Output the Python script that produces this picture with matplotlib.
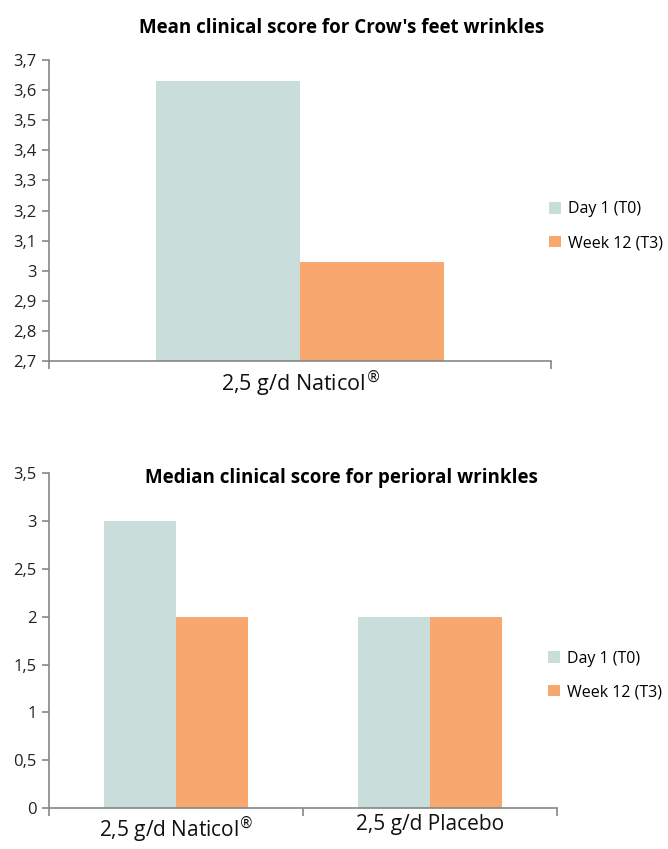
import matplotlib
matplotlib.use("Agg")
import matplotlib.pyplot as plt
from matplotlib.ticker import FuncFormatter
import numpy as np

plt.rcParams['font.family'] = ['Open Sans', 'DejaVu Sans']

# data
series = ["Day 1 (T0)", "Week 12 (T3)"]
colors = ["#C9DEDB", "#F8A86F"]

top_groups = ["2,5 g/d Naticol$^{\\circledR}$"]
top_day1 = [3.63]
top_week12 = [3.03]

bot_groups = ["2,5 g/d Naticol$^{\\circledR}$", "2,5 g/d Placebo"]
bot_day1 = [3.0, 2.0]
bot_week12 = [2.0, 2.0]

axis_col = "#868686"
comma = FuncFormatter(lambda v, p: f"{round(v, 2):g}".replace(".", ","))

fig = plt.figure(figsize=(6.68, 8.49), dpi=100)


def style(ax, n, xpad, xsize):
    for s in ["top", "right"]:
        ax.spines[s].set_visible(False)
    for s in ["left", "bottom"]:
        ax.spines[s].set_color(axis_col)
        ax.spines[s].set_linewidth(1.2)
    ax.yaxis.set_major_formatter(comma)
    ax.tick_params(axis="y", colors=axis_col, labelcolor="#222222", labelsize=12,
                   length=5, width=1.2, pad=4)
    ax.set_xlim(-0.5, n - 0.5)
    # category boundary ticks
    ax.set_xticks(np.arange(n + 1) - 0.5, minor=True)
    ax.tick_params(axis="x", which="minor", colors=axis_col, length=6, width=1.2)
    ax.tick_params(axis="x", which="major", length=0, labelsize=xsize, pad=xpad,
                   labelcolor="#111111")


def add_legend(ax, yanchor, xanchor):
    ax.legend(loc="upper left", bbox_to_anchor=(xanchor, yanchor), frameon=False,
              fontsize=11.5, handlelength=0.75, handleheight=0.75, handletextpad=0.45,
              labelspacing=1.1, borderaxespad=0, borderpad=0)


w = 0.287

# top chart
ax1 = fig.add_axes([0.0734, 0.5748, 0.7516, 0.3545])
x1 = np.arange(len(top_groups))
ax1.bar(x1 - w / 2, top_day1, w, color=colors[0], label=series[0])
ax1.bar(x1 + w / 2, top_week12, w, color=colors[1], label=series[1])
ax1.set_ylim(2.7, 3.7)
ax1.set_yticks([round(v, 1) for v in np.arange(2.7, 3.71, 0.1)])
ax1.set_xticks(x1)
ax1.set_xticklabels(top_groups)
style(ax1, len(top_groups), 5, 15.5)
add_legend(ax1, 0.53, 0.995)
fig.text(0.511, 0.967, "Mean clinical score for Crow's feet wrinkles", ha="center",
         va="center", fontsize=13.5, fontweight="bold")

# bottom chart
ax2 = fig.add_axes([0.0734, 0.048, 0.7604, 0.395])
x2 = np.arange(len(bot_groups))
w2 = 0.285
ax2.bar(x2 - w2 / 2, bot_day1, w2, color=colors[0], label=series[0])
ax2.bar(x2 + w2 / 2, bot_week12, w2, color=colors[1], label=series[1])
ax2.set_ylim(0, 3.5)
ax2.set_yticks(np.arange(0, 3.51, 0.5))
ax2.set_xticks(x2)
ax2.set_xticklabels(bot_groups)
style(ax2, len(bot_groups), 4, 15)
add_legend(ax2, 0.47, 0.982)
fig.text(0.511, 0.437, "Median clinical score for perioral wrinkles", ha="center",
         va="center", fontsize=13.5, fontweight="bold")

fig.savefig("out.png", dpi=100, facecolor="white")
